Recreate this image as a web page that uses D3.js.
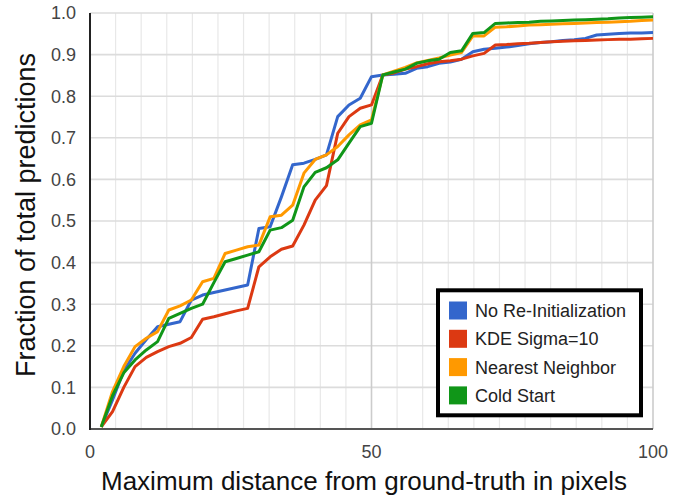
<!DOCTYPE html>
<html><head><meta charset="utf-8">
<script src="https://cdn.jsdelivr.net/npm/d3@7"></script>
<style>body{margin:0;background:#fff}svg{display:block}</style>
</head><body>
<svg id="c" width="681" height="496"></svg>
<script>
const distances = [2,4,6,8,10,12,14,16,18,20,22,24,26,28,30,32,34,36,38,40,42,44,46,48,50,52,54,56,58,60,62,64,66,68,70,72,74,76,78,80,82,84,86,88,90,92,94,96,98,100];
const seriesNames = ["No Re-Initialization","KDE Sigma=10","Nearest Neighbor","Cold Start"];
const noReInit = [0.005,0.07,0.14,0.182,0.215,0.246,0.252,0.258,0.31,0.322,0.328,0.334,0.34,0.346,0.482,0.486,0.558,0.635,0.639,0.648,0.659,0.751,0.779,0.795,0.847,0.851,0.853,0.855,0.867,0.871,0.879,0.882,0.889,0.907,0.913,0.915,0.918,0.922,0.926,0.929,0.931,0.934,0.936,0.939,0.947,0.949,0.951,0.952,0.952,0.953];
const kdeSigma10 = [0.005,0.042,0.10,0.15,0.172,0.186,0.198,0.206,0.22,0.264,0.27,0.277,0.284,0.29,0.39,0.414,0.432,0.44,0.49,0.55,0.585,0.711,0.751,0.771,0.779,0.851,0.856,0.865,0.871,0.878,0.883,0.885,0.889,0.897,0.903,0.923,0.924,0.926,0.927,0.929,0.931,0.932,0.933,0.934,0.935,0.936,0.937,0.937,0.938,0.939];
const nearestNeighbor = [0.005,0.09,0.15,0.198,0.218,0.234,0.286,0.296,0.31,0.354,0.362,0.422,0.43,0.438,0.442,0.51,0.514,0.538,0.615,0.648,0.659,0.679,0.707,0.731,0.743,0.851,0.86,0.869,0.88,0.886,0.892,0.899,0.905,0.945,0.945,0.966,0.967,0.969,0.971,0.972,0.973,0.974,0.975,0.976,0.977,0.978,0.979,0.98,0.982,0.983];
const coldStart = [0.005,0.08,0.135,0.166,0.19,0.21,0.266,0.278,0.29,0.30,0.352,0.402,0.41,0.418,0.426,0.478,0.484,0.502,0.582,0.617,0.628,0.647,0.687,0.727,0.735,0.851,0.858,0.865,0.879,0.885,0.889,0.905,0.909,0.951,0.953,0.975,0.976,0.977,0.978,0.98,0.981,0.982,0.983,0.984,0.985,0.986,0.988,0.989,0.99,0.991];
const seriesColors = ["#3366cc","#dc3912","#ff9900","#109618"];
const xTicks = [0,50,100];
const yTicks = [0,0.1,0.2,0.3,0.4,0.5,0.6,0.7,0.8,0.9,1.0];
const xTitle = "Maximum distance from ground-truth in pixels";
const yTitle = "Fraction of total predictions";

const svg = d3.select("#c");
const x = d3.scaleLinear().domain([0,100]).range([90,653]);
const y = d3.scaleLinear().domain([0,1]).range([429,13]);

// minor vertical gridlines
const minor = d3.range(1,22).map(i=>i*50/11).filter(v=>Math.abs(v-50)>1e-6);
svg.append("g").selectAll("line").data(minor).join("line")
  .attr("x1",d=>x(d)).attr("x2",d=>x(d)).attr("y1",y(0)).attr("y2",y(1))
  .attr("stroke","#e8e8e8").attr("stroke-width",1.2);
// horizontal gridlines
svg.append("g").selectAll("line").data(yTicks.filter(v=>v>0)).join("line")
  .attr("x1",x(0)).attr("x2",x(100)).attr("y1",d=>y(d)).attr("y2",d=>y(d))
  .attr("stroke","#dcdcdc").attr("stroke-width",1.6);
// major vertical gridlines
svg.append("g").selectAll("line").data(xTicks.filter(v=>v>0)).join("line")
  .attr("x1",d=>x(d)).attr("x2",d=>x(d)).attr("y1",y(0)).attr("y2",y(1))
  .attr("stroke","#cccccc").attr("stroke-width",1.6);

// axes lines
svg.append("line").attr("x1",x(0)).attr("x2",x(100)).attr("y1",y(0)).attr("y2",y(0))
  .attr("stroke","#555").attr("stroke-width",2);
svg.append("line").attr("x1",x(0)).attr("x2",x(0)).attr("y1",y(1)).attr("y2",y(0)+1)
  .attr("stroke","#222").attr("stroke-width",2);

// lines
const allSeries = [noReInit,kdeSigma10,nearestNeighbor,coldStart];
const line = d3.line().x((d,i)=>x(distances[i])).y(d=>y(d));
allSeries.forEach((s,k)=>{
  svg.append("path").datum(s).attr("d",line).attr("fill","none")
    .attr("stroke",seriesColors[k]).attr("stroke-width",3).attr("stroke-linejoin","round");
});

// tick labels
const tf = "Arial, 'Liberation Sans', sans-serif";
svg.append("g").selectAll("text").data(yTicks).join("text")
  .attr("x",76).attr("y",d=>y(d)).attr("dy","0.35em").attr("text-anchor","end")
  .attr("font-family",tf).attr("font-size",18).attr("fill","#444")
  .text(d=>d.toFixed(1));
svg.append("g").selectAll("text").data(xTicks).join("text")
  .attr("x",d=>x(d)).attr("y",458).attr("text-anchor","middle")
  .attr("font-family",tf).attr("font-size",18).attr("fill","#444")
  .text(d=>d);

// titles
svg.append("text").attr("x",364).attr("y",490).attr("text-anchor","middle")
  .attr("font-family",tf).attr("font-size",26).attr("fill","#111").text(xTitle);
svg.append("text").attr("transform","translate(35,215) rotate(-90)").attr("text-anchor","middle")
  .attr("font-family",tf).attr("font-size",27).attr("fill","#111").text(yTitle);

// legend
svg.append("rect").attr("x",438).attr("y",290.3).attr("width",203).attr("height",125)
  .attr("fill","#fff").attr("stroke","#000").attr("stroke-width",4);
const lg = svg.append("g").selectAll("g").data(seriesNames).join("g")
  .attr("transform",(d,i)=>`translate(0,${310.5+i*28.3})`);
lg.append("rect").attr("x",449).attr("y",-9).attr("width",18).attr("height",18)
  .attr("fill",(d,i)=>seriesColors[i]);
lg.append("text").attr("x",475).attr("y",0).attr("dy","0.36em")
  .attr("font-family",tf).attr("font-size",18).attr("fill","#222").text(d=>d);
</script>
</body></html>
